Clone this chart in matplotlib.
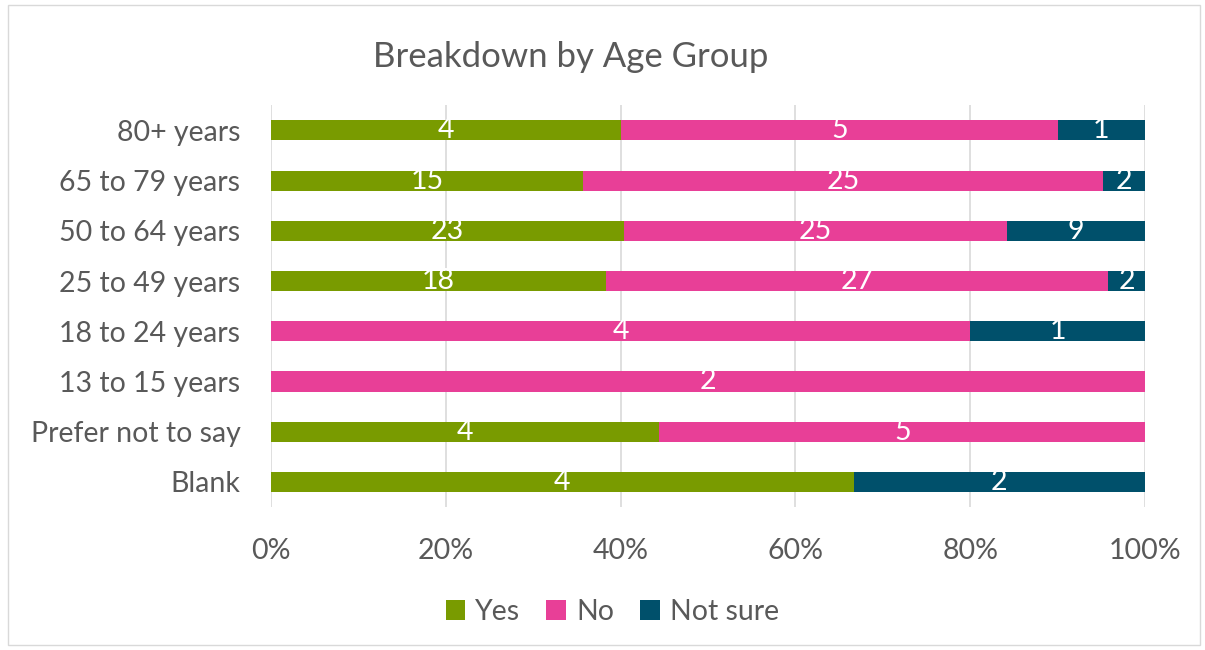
import numpy as np
import matplotlib.pyplot as plt
from matplotlib.patches import Rectangle

plt.rcParams['font.family'] = ['Lato', 'DejaVu Sans']

# data, listed bottom to top
groups = ["Blank", "Prefer not to say", "13 to 15 years", "18 to 24 years",
          "25 to 49 years", "50 to 64 years", "65 to 79 years", "80+ years"]
yes = [4, 4, 0, 0, 18, 23, 15, 4]
no = [0, 5, 2, 4, 27, 25, 25, 5]
not_sure = [2, 0, 0, 1, 2, 9, 2, 1]

series_names = ["Yes", "No", "Not sure"]
colors = ["#799B00", "#E83F97", "#00506B"]
text_col = "#595959"

counts = np.array([yes, no, not_sure], dtype=float)
totals = counts.sum(axis=0)
shares = counts / totals * 100

fig = plt.figure(figsize=(12.05, 6.5), dpi=100)
ax = fig.add_axes([0.2249, 0.22, 0.7254, 0.618])

y = np.arange(len(groups))
left = np.zeros(len(groups))
for i, name in enumerate(series_names):
    bars = ax.barh(y, shares[i], left=left, height=0.4, color=colors[i],
                   label=name, zorder=3)
    for j, b in enumerate(bars):
        if counts[i, j] > 0:
            ax.text(left[j] + shares[i, j] / 2, y[j], f"{int(counts[i, j])}",
                    ha="center", va="center", color="white", fontsize=20.5,
                    zorder=4)
    left += shares[i]

ax.set_xlim(0, 100)
ax.set_ylim(-0.5, len(groups) - 0.5)
ax.set_xticks(np.arange(0, 101, 20))
ax.set_xticklabels([f"{v}%" for v in range(0, 101, 20)])
ax.set_yticks(y)
ax.set_yticklabels(groups)
ax.tick_params(axis="both", length=0, labelsize=20.5, labelcolor=text_col)
ax.tick_params(axis="x", pad=22)
ax.tick_params(axis="y", pad=22)
ax.grid(axis="x", color="#D9D9D9", linewidth=1.2, zorder=0)
for s in ax.spines.values():
    s.set_visible(False)

fig.text(0.474, 0.913, "Breakdown by Age Group", ha="center", va="center",
         fontsize=25, color=text_col)

ax.legend(loc="center", bbox_to_anchor=(0.508, 0.058), bbox_transform=fig.transFigure,
          ncol=3, frameon=False, fontsize=20.5, labelcolor=text_col,
          handlelength=0.7, handleheight=0.7, handletextpad=0.35, columnspacing=0.9)

fig.patches.append(Rectangle((8 / 1205, 5 / 650), 1192 / 1205, 640 / 650,
                             transform=fig.transFigure, fill=False,
                             edgecolor="#D9D9D9", linewidth=1))

fig.savefig("out.png", dpi=100)
